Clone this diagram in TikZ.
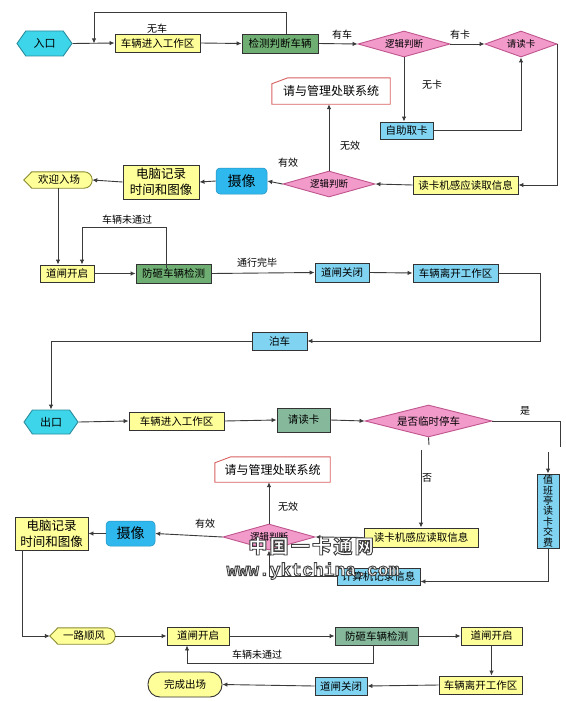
\documentclass[tikz,border=0pt]{standalone}
\usepackage{fontspec}
\setmainfont{Noto Sans CJK SC}
\newfontfamily\wmono{Liberation Mono}
\usetikzlibrary{shapes.geometric,shapes.symbols,arrows.meta,calc}
\definecolor{yel}{HTML}{FFFF99}
\definecolor{yelD}{HTML}{8A8A30}
\definecolor{cyanh}{HTML}{3DD5EA}
\definecolor{cyanD}{HTML}{2A8C9C}
\definecolor{grnA}{HTML}{6FAE72}
\definecolor{grnB}{HTML}{86B99C}
\definecolor{bluA}{HTML}{80D4F2}
\definecolor{camB}{HTML}{2FB8EE}
\definecolor{pnk}{HTML}{F29BCB}
\definecolor{pnkD}{HTML}{C0558E}
\definecolor{redB}{HTML}{D96060}
\definecolor{lin}{HTML}{3A3A3A}
\tikzset{
  box/.style={draw=black!80, line width=0.9pt, inner sep=0, font=\fontsize{10.5}{12}\selectfont},
  yb/.style={box, fill=yel},
  ga/.style={box, fill=grnA},
  gb/.style={box, fill=grnB},
  bb/.style={box, fill=bluA},
  pc/.style={box, fill=yel, align=center, font=\fontsize{12.5}{16}\selectfont},
  cam/.style={rounded corners=4pt, fill=camB, draw=camB!80!black, line width=0.5pt, inner sep=0, font=\fontsize{14}{16}\selectfont},
  dia/.style={diamond, aspect=3.5, draw=pnkD, fill=pnk, line width=0.9pt, inner sep=0, font=\fontsize{9.5}{11}\selectfont},
  hexa/.style={signal, signal to=east and west, signal pointer angle=110, draw=cyanD, fill=cyanh, line width=0.9pt, inner sep=0, font=\fontsize{11}{12}\selectfont},
  plain/.style={inner sep=0, font=\fontsize{10.5}{12}\selectfont},
  redtxt/.style={inner sep=0, font=\fontsize{12}{14}\selectfont},
  lbl/.style={inner sep=0, font=\fontsize{10}{12}\selectfont},
  arr/.style={-{Latex[length=5pt,width=4.5pt]}, line width=0.9pt, draw=lin},
  ln/.style={line width=0.9pt, draw=lin},
  shp/.style={draw=yelD, fill=yel, line width=0.9pt},
  rshp/.style={draw=redB, fill=white, line width=0.9pt}
}
\newcommand\dispshape[1]{\draw[shp] (#1.west) -- ($(#1.north west)+(8,0)$) [rounded corners=8pt] -- (#1.north east) -- (#1.south east) [sharp corners] -- ($(#1.south west)+(8,0)$) -- cycle;}
\newcommand\cutbox[1]{\draw[rshp] ($(#1.north west)+(0,6)$) -- ($(#1.north west)+(16,0)$) -- (#1.north east) -- (#1.south east) -- (#1.south west) -- cycle;}
\begin{document}
\begin{tikzpicture}[x=1pt,y=-1pt]
\useasboundingbox (0,0) rectangle (565,701);
\fill[white] (0,0) rectangle (565,701);

% ---------------- entry section ----------------
\node[hexa, minimum width=55pt, minimum height=25pt] (ent) at (44.5,43.5) {入口};
\node[yb, minimum width=85pt, minimum height=18pt] (n1) at (157.5,43) {车辆进入工作区};
\node[ga, minimum width=76pt, minimum height=19pt] (n2) at (280,43.5) {检测判断车辆};
\node[dia, minimum width=92pt, minimum height=26pt] (d1) at (404,44) {逻辑判断};
\node[dia, minimum width=72pt, minimum height=26pt] (d2) at (521,44) {请读卡};
\node[bb, minimum width=53pt, minimum height=17pt] (n3) at (406.5,130.5) {自助取卡};
\node[yb, minimum width=105pt, minimum height=18pt] (n4) at (465.5,185) {读卡机感应读取信息};
\node[dia, minimum width=92pt, minimum height=26pt] (d3) at (329,184) {逻辑判断};
\node[redtxt, minimum width=118pt, minimum height=26pt] (r1) at (331,91) {};
\cutbox{r1}
\node[redtxt] (r1t) at (r1) {请与管理处联系统};
\node[cam, minimum width=51pt, minimum height=26pt] (cam1) at (241.5,181) {摄像};
\node[pc, minimum width=76pt, minimum height=34pt] (pc1) at (161,182) {电脑记录\\时间和图像};
\node[plain, minimum width=68pt, minimum height=16pt] (wel) at (58,180) {};
\dispshape{wel}
\node[plain] (welt) at (59,180) {欢迎入场};
\node[yb, minimum width=54pt, minimum height=17pt] (g1) at (67,273.5) {道闸开启};
\node[ga, minimum width=75pt, minimum height=19pt] (f1) at (173.5,273.5) {防砸车辆检测};
\node[bb, minimum width=54pt, minimum height=19pt] (c1) at (342,272.5) {道闸关闭};
\node[bb, minimum width=85pt, minimum height=18pt] (l1) at (455.5,273) {车辆离开工作区};
\node[bb, minimum width=55pt, minimum height=18pt] (p1) at (279.5,341) {泊车};

% connectors (entry)
\coordinate (tl) at (94,12);
\draw[arr] (ent.east) -- (n1.west);
\draw[arr] ($(n2.north)+(6,0)$) |- (tl) -- (tl |- ent.east);
\node[lbl] (lwc) at (157,29) {无车};
\draw[arr] (n1.east) -- (n2.west);
\draw[arr] (n2.east) -- (d1.west);
\node[lbl] (lyc) at (342,35) {有车};
\draw[arr] (d1.east) -- (d2.west);
\node[lbl] (lyk) at (460,35) {有卡};
\draw[arr] (d1.south) -- (d1.south |- n3.north);
\node[lbl] (lwk) at (432,85) {无卡};
\draw[arr] (n3.east) -| (d2.south);
\draw[arr] (d2.east) |- (n4.east);
\draw[arr] (n4.west) -- (d3.east);
\draw[arr] (d3.north) -- (d3.north |- r1.south);
\node[lbl] (lwx) at (350,146) {无效};
\draw[arr] (d3.west) -- (cam1.east);
\node[lbl] (lyx) at (288,163) {有效};
\draw[arr] (cam1.west) -- (pc1.east);
\draw[arr] (pc1.west) -- (wel.east);
\draw[arr] (wel.south) -- (wel.south |- g1.north);
\coordinate (lp1) at (166,268);
\coordinate (lk1) at (82,227);
\draw[arr] (lp1) |- (lk1) -- (lk1 |- g1.north);
\node[lbl] (lnp1) at (127,220) {车辆未通过};
\draw[arr] (g1.east) -- (f1.west);
\draw[arr] (f1.east) -- (c1.west);
\node[lbl] (ltx) at (257,263) {通行完毕};
\draw[arr] (c1.east) -- (l1.west);
\coordinate (rt1) at (540,0);
\draw[arr] (l1.east) -- (l1.east -| rt1) |- (p1.east);

% ---------------- exit section ----------------
\node[hexa, minimum width=54pt, minimum height=24pt] (ex) at (51,422) {出口};
\draw[arr] (p1.west) -| (ex.north);
\node[yb, minimum width=95pt, minimum height=18pt] (n5) at (176.5,421) {车辆进入工作区};
\node[gb, minimum width=53pt, minimum height=24pt] (n6) at (303.5,420) {请读卡};
\node[dia, minimum width=127pt, minimum height=32pt, font=\fontsize{10.5}{12}\selectfont] (d4) at (428.5,421) {是否临时停车};
\node[redtxt, minimum width=115pt, minimum height=25pt] (r2) at (272.5,469.5) {};
\cutbox{r2}
\node[redtxt] (r2t) at (r2) {请与管理处联系统};
\node[bb, minimum width=22pt, minimum height=74pt, align=center, font=\fontsize{10}{10.4}\selectfont] (n7) at (548,511) {值\\班\\亭\\读\\卡\\交\\费};
\node[yb, minimum width=114pt, minimum height=19pt] (n8) at (421,537.5) {读卡机感应读取信息};
\node[dia, minimum width=92pt, minimum height=26pt] (d5) at (269,537) {逻辑判断};
\node[cam, minimum width=49pt, minimum height=25pt] (cam2) at (130.5,533.5) {摄像};
\node[pc, minimum width=73pt, minimum height=33pt] (pc2) at (51.5,533.5) {电脑记录\\时间和图像};
\node[bb, minimum width=83pt, minimum height=17pt] (n9) at (378.5,576.5) {计算机记录信息};
\node[plain, minimum width=65pt, minimum height=16pt] (wind) at (82.5,636) {};
\dispshape{wind}
\node[plain] (windt) at (84,636) {一路顺风};
\node[yb, minimum width=62pt, minimum height=18pt] (g2) at (198,636) {道闸开启};
\node[gb, minimum width=83pt, minimum height=18pt] (f2) at (376.5,636) {防砸车辆检测};
\node[yb, minimum width=61pt, minimum height=18pt] (g3) at (491.5,636) {道闸开启};
\node[yb, minimum width=83pt, minimum height=18pt] (l2) at (480.5,685) {车辆离开工作区};
\node[bb, minimum width=52pt, minimum height=18pt] (c2) at (341,686) {道闸关闭};
\node[yb, rounded corners=12pt, minimum width=74pt, minimum height=25pt] (done) at (185,684.5) {完成出场};

% connectors (exit)
\draw[arr] (ex.east) -- (n5.west);
\draw[arr] (n5.east) -- (n6.west);
\draw[arr] (n6.east) -- (d4.west);
\coordinate (ys1) at (560,447);
\coordinate (ys2) at (548,452);
\draw[ln] (d4.east) -| (ys1);
\draw[arr] (ys2) -- (n7.north);
\node[lbl] (lshi) at (525,411) {是};
\coordinate (no1) at (429,445);
\coordinate (no2) at (421,450);
\draw[ln] (d4.south) -- (no1);
\draw[arr] (no2) -- (n8.north);
\node[lbl] (lfou) at (427,478) {否};
\draw[arr] (n7.south) |- ($(n9.east)+(0,5)$);
\draw[arr] (n8.west) -- (d5.east);
\draw[arr] (n9.west) -| (d5.south);
\draw[arr] (d5.north) -- (d5.north |- r2.south);
\node[lbl] (lwx2) at (288,507) {无效};
\draw[arr] (d5.west) -- (cam2.east);
\node[lbl] (lyx2) at (205,524) {有效};
\draw[arr] (cam2.west) -- (pc2.east);
\coordinate (pcx) at (22,0);
\draw[arr] (pc2.south -| pcx) |- (wind.west);
\draw[arr] (wind.east) -- (g2.west);
\draw[arr] (g2.east) -- (f2.west);
\draw[arr] (f2.east) -- (g3.west);
\draw[arr] (g3.south) -- (g3.south |- l2.north);
\draw[arr] (l2.west) -- (c2.east);
\draw[arr] (c2.west) -- (done.east);
\coordinate (lk2) at (187,663);
\draw[arr] ($(f2.south)+(-3,0)$) |- (lk2) -- (lk2 |- g2.south);
\node[lbl] (lnp2) at (257,655) {车辆未通过};

% watermark
\node[inner sep=0, text=white, font=\fontsize{19}{20}\selectfont\bfseries\addfontfeature{LetterSpace=12}] (wm1) at (311,546) {\special{pdf:literal direct 2 Tr 0.9 w 0.25 0.25 0.25 RG}中国一卡通网\special{pdf:literal direct 0 Tr}};
\node[inner sep=0, text=white, font=\fontsize{18}{20}\wmono\bfseries] (wm2) at (313,571) {\special{pdf:literal direct 2 Tr 0.9 w 0.25 0.25 0.25 RG}www.yktchina.com\special{pdf:literal direct 0 Tr}};
\end{tikzpicture}
\end{document}
